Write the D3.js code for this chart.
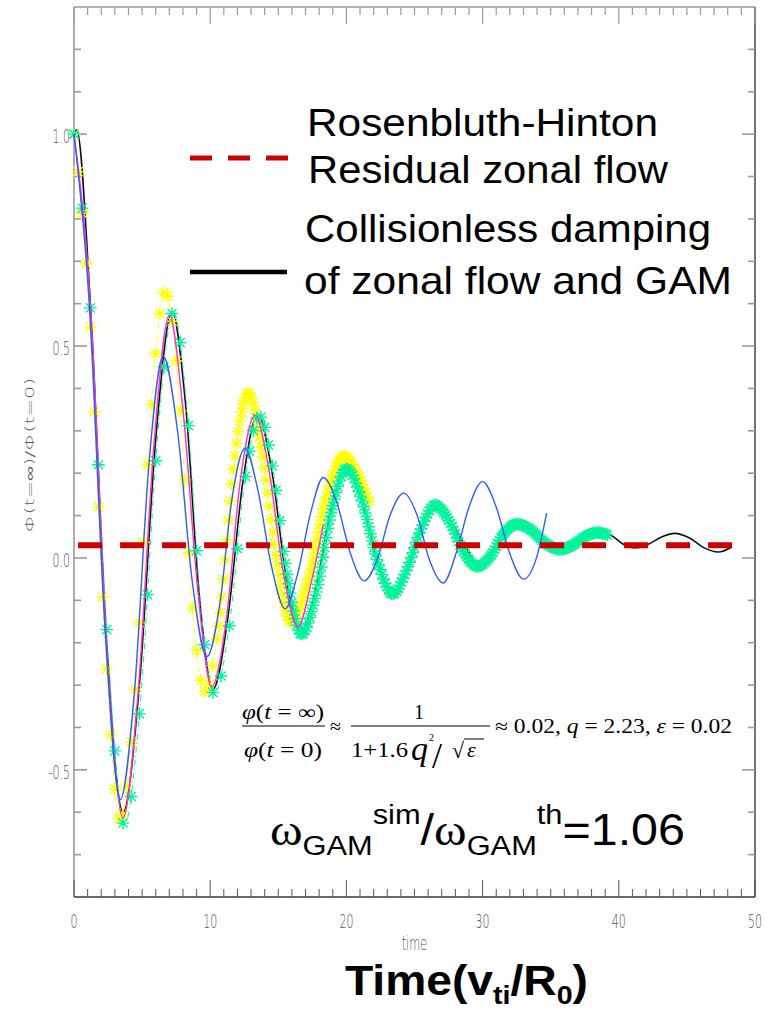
<!DOCTYPE html>
<html><head><meta charset="utf-8">
<script src="https://cdn.jsdelivr.net/npm/d3@7"></script>
<style>body{margin:0;background:#fff} svg{display:block}</style>
</head><body>
<script>
// ---------- data ----------
const blackT = [0,0.2,1.2,2.4,3.6,4.8,6.0,7.2,8.2,9.2,10.2,11.3,12.4,13.5,14.5,15.6,16.6,17.7,18.9,20.0,21.1,22.3,23.4,24.5,25.5,26.6,27.6,28.7,29.7,30.6,31.6,32.5,33.6,34.6,35.7,36.7,37.6,38.6,39.5,40.3,41.2,42.2,43.1,44.1,45.2,46.2,47.3,48.3];
const blackV = [1.0,1.01,0.60,-0.20,-0.60,-0.30,0.28,0.58,0.36,-0.09,-0.31,-0.14,0.18,0.34,0.21,-0.05,-0.175,-0.08,0.12,0.215,0.14,-0.01,-0.085,-0.03,0.07,0.125,0.09,0.03,-0.017,0.008,0.058,0.083,0.067,0.035,0.019,0.03,0.05,0.061,0.052,0.033,0.024,0.033,0.049,0.058,0.047,0.025,0.014,0.026];

const greenT = [0,1.2,2.5,3.7,4.9,6.1,7.3,8.3,9.3,10.3,11.4,12.5,13.6,14.6,15.7,16.7,17.8,18.9,20.0,21.1,22.3,23.4,24.4,25.5,26.5,27.5,28.6,29.6,30.6,31.5,32.5,33.6,34.6,35.7,36.6,37.5,38.4,39.2];
const greenV = [1.0,0.59,-0.22,-0.63,-0.33,0.27,0.58,0.35,-0.11,-0.32,-0.16,0.17,0.335,0.21,-0.05,-0.18,-0.08,0.11,0.21,0.14,-0.01,-0.085,-0.03,0.07,0.125,0.09,0.015,-0.02,0.005,0.055,0.08,0.065,0.035,0.02,0.03,0.05,0.06,0.054];

const yellowT = [0,1.1,2.3,3.4,4.5,5.6,6.7,7.7,8.6,9.6,10.7,11.7,12.8,13.8,14.9,15.9,17.2,18.5,19.8,20.8,21.7];
const yellowV = [1.0,0.60,-0.21,-0.62,-0.31,0.32,0.63,0.39,-0.08,-0.315,-0.14,0.21,0.39,0.25,-0.01,-0.15,-0.05,0.14,0.24,0.20,0.13];

const magentaT = [0,1.2,2.4,3.6,4.7,5.9,7.0,8.0,9.1,10.1,11.2,12.2,13.3,14.3,15.4,16.45,17.4,18.3];
const magentaV = [1.0,0.60,-0.21,-0.613,-0.32,0.28,0.573,0.35,-0.08,-0.304,-0.14,0.18,0.337,0.21,-0.04,-0.163,-0.06,0.078];

const blueT = [0,1.1,2.3,3.4,4.45,5.5,6.55,7.6,8.7,9.75,10.7,11.6,12.55,13.5,14.5,15.5,16.4,17.4,18.3,19.3,20.3,21.3,22.3,23.2,24.2,25.2,26.1,27.1,28.1,29.0,30.0,31.0,32.0,33.0,34.0,34.7];
const blueV = [1.0,0.61,-0.18,-0.57,-0.31,0.22,0.476,0.30,-0.06,-0.233,-0.11,0.14,0.259,0.16,-0.02,-0.12,-0.04,0.11,0.19,0.13,0.01,-0.054,0.0,0.10,0.153,0.10,-0.005,-0.059,0.016,0.12,0.18,0.12,0.01,-0.05,0.005,0.106];

const residualValue = 0.03;
const residualRange = [0.3, 48.4];

const xTickValues = [0,10,20,30,40,50];
const xTickLabels = ["0","10","20","30","40","50"];
const yTickValues = [-0.5,0.0,0.5,1.0];
const yTickLabels = ["-0.5","0.0","0.5","1.0"];

const legendLabels = ["Rosenbluth-Hinton","Residual zonal flow","Collisionless damping","of zonal flow and GAM"];

// ---------- layout ----------
const W=770,H=1030;
const svg=d3.select("body").append("svg").attr("width",W).attr("height",H);
const x=d3.scaleLinear().domain([0,50]).range([74,755]);
const y=d3.scaleLinear().domain([-0.8,1.3]).range([897,7]);
const X0=x.range()[0], X1=x.range()[1], Y0=y.range()[0], Y1=y.range()[1];

const tickFont = "'DejaVu Sans', sans-serif";
const grayAx = "#9a9a9a", darkAx = "#3a3a3a";

// frame
svg.append("line").attr("x1",X0).attr("x2",X0).attr("y1",Y1).attr("y2",Y0).attr("stroke",grayAx).attr("stroke-width",1.6);
svg.append("line").attr("x1",X0).attr("x2",X1).attr("y1",Y1).attr("y2",Y1).attr("stroke",grayAx).attr("stroke-width",1.6);
svg.append("line").attr("x1",X1).attr("x2",X1).attr("y1",Y1).attr("y2",Y0).attr("stroke",darkAx).attr("stroke-width",1.4);
svg.append("line").attr("x1",X0).attr("x2",X1).attr("y1",Y0).attr("y2",Y0).attr("stroke",darkAx).attr("stroke-width",1.6);

// x ticks
const xMinor = x.ticks(50);
xMinor.forEach(t=>{
  const major = xTickValues.includes(t);
  const len = major?17:8;
  svg.append("line").attr("x1",x(t)).attr("x2",x(t)).attr("y1",Y0).attr("y2",Y0-len).attr("stroke","#555").attr("stroke-width",1);
  svg.append("line").attr("x1",x(t)).attr("x2",x(t)).attr("y1",Y1).attr("y2",Y1+len).attr("stroke",grayAx).attr("stroke-width",1.2);
});
xTickValues.forEach((t,i)=>{
  svg.append("text").attr("transform",`translate(${x(t)},${Y0+31}) scale(0.55,1)`)
    .attr("text-anchor","middle").attr("font-family",tickFont).attr("font-weight",300)
    .attr("font-size",20).attr("fill","#555").text(xTickLabels[i]);
});
svg.append("text").attr("transform",`translate(${x(25)},${Y0+53}) scale(0.6,1)`)
  .attr("text-anchor","middle").attr("font-family",tickFont).attr("font-weight",300)
  .attr("font-size",19).attr("fill","#555").text("time");

// y ticks
const yMinor = d3.range(-7,13).map(d=>d/10);
yMinor.forEach(v=>{
  const major = yTickValues.some(m=>Math.abs(m-v)<1e-9);
  const len = major?13:7;
  svg.append("line").attr("x1",X0).attr("x2",X0+len).attr("y1",y(v)).attr("y2",y(v)).attr("stroke",grayAx).attr("stroke-width",1.6);
  svg.append("line").attr("x1",X1).attr("x2",X1-len).attr("y1",y(v)).attr("y2",y(v)).attr("stroke",grayAx).attr("stroke-width",1.6);
});
yTickValues.forEach((v,i)=>{
  svg.append("text").attr("transform",`translate(${X0-4},${y(v)+9}) scale(0.55,1)`)
    .attr("text-anchor","end").attr("font-family",tickFont).attr("font-weight",300)
    .attr("font-size",20).attr("fill","#555").text(yTickLabels[i]);
});
svg.append("text").attr("transform","translate(34,455) rotate(-90)")
  .attr("text-anchor","middle").attr("font-family",tickFont).attr("font-weight",300)
  .attr("font-size",13).attr("fill","#555")
  .attr("textLength",155).attr("lengthAdjust","spacingAndGlyphs")
  .text("Φ(t=∞)/Φ(t=0)");

// ---------- curves ----------
const line = d3.line().x(d=>x(d[0])).y(d=>y(d[1])).curve(d3.curveMonotoneX);
const zip=(a,b)=>a.map((t,i)=>[t,b[i]]);
const gCurves = svg.append("g");

function drawLine(T,V,color,width,dash){
  return gCurves.append("path").attr("d",line(zip(T,V))).attr("fill","none")
    .attr("stroke",color).attr("stroke-width",width).attr("stroke-dasharray",dash||null)
    .attr("stroke-linejoin","round");
}
function yAtX(node,px){
  let lo=0,hi=node.getTotalLength();
  for(let i=0;i<28;i++){const m=(lo+hi)/2; if(node.getPointAtLength(m).x<px) lo=m; else hi=m;}
  return node.getPointAtLength((lo+hi)/2).y;
}
const starR=6.3, sa=starR*0.72;
const starPath=`M${-starR},0L${starR},0M0,${-starR}L0,${starR}M${-sa},${-sa}L${sa},${sa}M${-sa},${sa}L${sa},${-sa}`;
function drawStars(node,T,color,zones){
  const times=[]; let t=T[0];
  const tEnd=T[T.length-1];
  while(t<=tEnd+1e-9){ times.push(t); const z=zones.find(z=>t<z[0]); t+= z?z[1]:zones[zones.length-1][1]; }
  gCurves.append("g").selectAll("path").data(times).join("path")
    .attr("d",starPath)
    .attr("transform",tt=>{const px=x(tt); return `translate(${px},${yAtX(node,px)})`;})
    .attr("fill","none").attr("stroke",color).attr("stroke-width",1.4);
}

// black theory curve
drawLine(blackT,blackV,"#111",1.6);
// yellow stars
const yellowNode = drawLine(yellowT,yellowV,"#ffff00",1,"6,3,1,3").node();
drawStars(yellowNode,yellowT,"#ffff00",[[10.3,0.3],[999,0.12]]);
// green stars
const greenNode = drawLine(greenT,greenV,"#00f59a",1,"6,3,1,3").node();
drawStars(greenNode,greenT,"#00f59a",[[12.2,0.6],[15.3,0.28],[999,0.12]]);
// magenta and blue
drawLine(magentaT,magentaV,"#ff2fc8",1.4);
drawLine(blueT,blueV,"#2f5cff",1.4);

// residual RH line
svg.append("line").attr("x1",x(residualRange[0])).attr("x2",x(residualRange[1]))
  .attr("y1",y(residualValue)).attr("y2",y(residualValue))
  .attr("stroke","#cc0000").attr("stroke-width",6).attr("stroke-dasharray","24,18");

// ---------- legend ----------
svg.append("line").attr("x1",190).attr("x2",288).attr("y1",158).attr("y2",158)
  .attr("stroke","#cc0000").attr("stroke-width",5).attr("stroke-dasharray","22,16");
svg.append("line").attr("x1",190).attr("x2",287).attr("y1",272).attr("y2",272)
  .attr("stroke","#000").attr("stroke-width",4.5);
const legPos=[[307,136,351],[308,183,360],[305,242,406],[304,294,428]];
legendLabels.forEach((s,i)=>{
  svg.append("text").attr("x",legPos[i][0]).attr("y",legPos[i][1])
    .attr("font-family","'Liberation Sans', Arial, sans-serif").attr("font-size",39)
    .attr("textLength",legPos[i][2]).attr("lengthAdjust","spacingAndGlyphs")
    .attr("fill","#000").text(s);
});

// ---------- formula ----------
const serif="'Liberation Serif','Times New Roman',serif";
const fg=svg.append("g").attr("font-family",serif).attr("fill","#000");
function ft(xx,yy,size,txt,opts={}){
  const t=fg.append("text").attr("x",xx).attr("y",yy).attr("font-size",size);
  if(opts.italic) t.attr("font-style","italic");
  if(opts.anchor) t.attr("text-anchor",opts.anchor);
  if(opts.len) t.attr("textLength",opts.len).attr("lengthAdjust","spacingAndGlyphs");
  t.text(txt); return t;
}
// left fraction
let num=fg.append("text").attr("x",242).attr("y",719).attr("font-size",20).attr("textLength",82).attr("lengthAdjust","spacingAndGlyphs");
num.append("tspan").attr("font-style","italic").text("φ");
num.append("tspan").text("(");
num.append("tspan").attr("font-style","italic").text("t");
num.append("tspan").text(" = ∞)");
fg.append("line").attr("x1",242).attr("x2",325).attr("y1",726).attr("y2",726).attr("stroke","#000").attr("stroke-width",1);
let den=fg.append("text").attr("x",244).attr("y",757).attr("font-size",20).attr("textLength",78).attr("lengthAdjust","spacingAndGlyphs");
den.append("tspan").attr("font-style","italic").text("φ");
den.append("tspan").text("(");
den.append("tspan").attr("font-style","italic").text("t");
den.append("tspan").text(" = 0)");
ft(330,733,20,"≈");
// right fraction
ft(419,719,20,"1",{anchor:"middle"});
fg.append("line").attr("x1",351).attr("x2",490).attr("y1",726).attr("y2",726).attr("stroke","#000").attr("stroke-width",1);
ft(351,757,20,"1+1.6",{len:57});
ft(411,760,34,"q",{italic:true});
ft(429,741,10,"2");
ft(432,768,36,"/");
ft(452,758,22,"√");
ft(467,757,22,"ε",{italic:true});
fg.append("line").attr("x1",464).attr("x2",484).attr("y1",739).attr("y2",739).attr("stroke","#000").attr("stroke-width",1);
let rest=fg.append("text").attr("x",495).attr("y",733).attr("font-size",20).attr("textLength",237).attr("lengthAdjust","spacingAndGlyphs");
rest.append("tspan").text("≈ 0.02, ");
rest.append("tspan").attr("font-style","italic").text("q");
rest.append("tspan").text(" = 2.23, ");
rest.append("tspan").attr("font-style","italic").text("ε");
rest.append("tspan").text(" = 0.02");

// ---------- omega ratio ----------
const om=svg.append("text").attr("transform","translate(270,845) scale(1.1,1)")
  .attr("font-family","'Liberation Sans', Arial, sans-serif").attr("fill","#000");
om.append("tspan").attr("font-family",serif).attr("font-size",45).text("ω");
om.append("tspan").attr("font-size",28).attr("dy",10).text("GAM");
om.append("tspan").attr("font-size",28).attr("dy",-31).text("sim");
om.append("tspan").attr("font-size",44).attr("dy",21).text("/");
om.append("tspan").attr("font-family",serif).attr("font-size",45).text("ω");
om.append("tspan").attr("font-size",28).attr("dy",10).text("GAM");
om.append("tspan").attr("font-size",28).attr("dy",-31).text("th");
om.append("tspan").attr("font-size",44).attr("dy",21).text("=1.06");

// ---------- bottom title ----------
const tt=svg.append("text").attr("transform","translate(345,995) scale(1.1,1)")
  .attr("font-family","'Liberation Sans', Arial, sans-serif").attr("font-weight","bold").attr("fill","#000");
tt.append("tspan").attr("font-size",42).text("Time(v");
tt.append("tspan").attr("font-size",26).attr("dy",9).text("ti");
tt.append("tspan").attr("font-size",42).attr("dy",-9).text("/R");
tt.append("tspan").attr("font-size",26).attr("dy",9).text("0");
tt.append("tspan").attr("font-size",42).attr("dy",-9).text(")");
</script>
</body></html>
